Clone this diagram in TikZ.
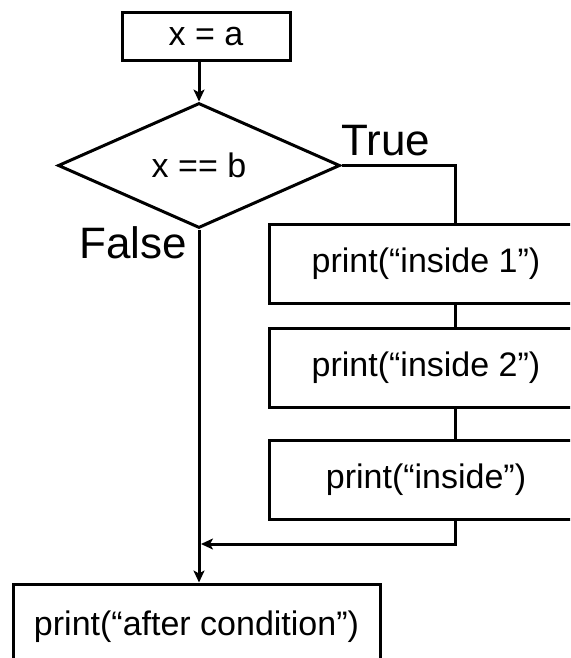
\documentclass[tikz,border=0pt]{standalone}
\usepackage{fontspec}
\setmainfont{Liberation Sans}
\usetikzlibrary{shapes.geometric,arrows.meta,calc}
\begin{document}
\begin{tikzpicture}[x=1pt,y=-1pt,
  conn/.style={draw=black,line width=3pt},
  box/.style={draw=black,line width=3pt,fill=white,rectangle,inner sep=0pt,font=\fontsize{34}{38}\selectfont},
  lbl/.style={inner sep=0pt,font=\fontsize{44}{48}\selectfont,anchor=base west},
  arr/.style={conn,-{Stealth[length=12pt,width=11pt,inset=3pt]}}]
\clip (0,0) rectangle (570,658);
\fill[white] (0,0) rectangle (570,658);
\node[box,minimum width=168pt,minimum height=48pt] (xa) at (206,36.5) {x = a};
\node[box,diamond,minimum width=282pt,minimum height=125pt] (dec) at (199,165.5) {x == b};
\node[box,minimum width=314pt,minimum height=79pt] (b1) at (426,263.5) {print(“inside 1”)};
\node[box,minimum width=314pt,minimum height=79pt] (b2) at (426,367.5) {print(“inside 2”)};
\node[box,minimum width=314pt,minimum height=79pt] (b3) at (426,479.5) {print(“inside”)};
\node[box,minimum width=367pt,minimum height=86pt] (after) at (196.5,627) {print(“after condition”)};
\node[lbl] (true) at (341,155) {True};
\node[lbl] (false) at (79,258) {False};
\coordinate (col) at (455,0);
\coordinate (join) at (201,544);
\draw[arr] (dec.north |- xa.south) -- (dec.north);
\draw[conn] (dec.east) -- (dec.east -| col) -- (b1.north -| col);
\draw[conn] (b1.south -| col) -- (b2.north -| col);
\draw[conn] (b2.south -| col) -- (b3.north -| col);
\draw[arr] (b3.south -| col) -- (col |- join) -- (join);
\draw[arr] (dec.south) -- (dec.south |- after.north);
\end{tikzpicture}
\end{document}
